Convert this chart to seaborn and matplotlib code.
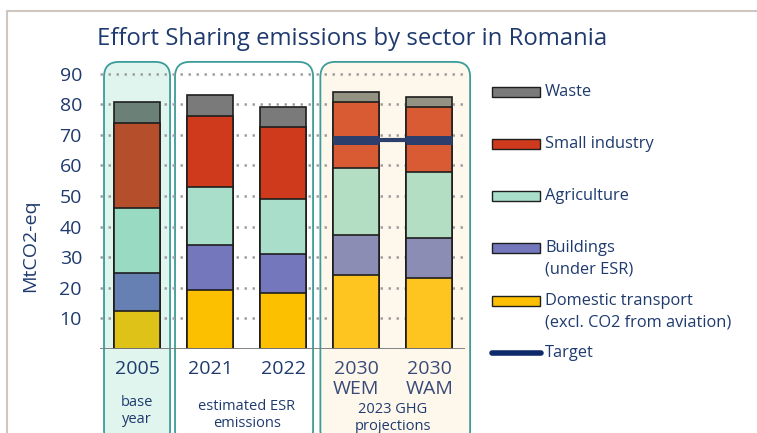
import numpy as np
import pandas as pd
import matplotlib
matplotlib.use("Agg")
import matplotlib.pyplot as plt
import seaborn as sns
from matplotlib.patches import FancyBboxPatch, Rectangle
from matplotlib.lines import Line2D
from matplotlib.transforms import IdentityTransform, blended_transform_factory

# data (MtCO2-eq)
bars = ["2005", "2021", "2022", "2030\nWEM", "2030\nWAM"]
transport = [12.3, 19.3, 18.3, 24.1, 23.2]
buildings = [12.5, 14.6, 12.7, 13.3, 13.0]
agriculture = [21.2, 19.0, 17.9, 21.8, 21.5]
small_industry = [27.9, 23.3, 23.5, 21.4, 21.5]
waste = [6.7, 6.7, 6.6, 3.2, 3.1]
target = 68.3
target_bars = ["2030\nWEM", "2030\nWAM"]

groups = ["base\nyear", "estimated ESR\nemissions", "2023 GHG\nprojections"]
group_span = [(0, 0), (1, 2), (3, 4)]
legend_labels = ["Waste", "Small industry", "Agriculture",
                 "Buildings\n(under ESR)", "Domestic transport\n(excl. CO2 from aviation)", "Target"]

# colours per bar (shades change between base year, estimates and projections)
colors = {
    "transport": ["#DFC218", "#FDC000", "#FDC000", "#FEC520", "#FEC520"],
    "buildings": ["#6680B3", "#7477BC", "#7477BC", "#8C8DB5", "#8C8DB5"],
    "agriculture": ["#98DBC2", "#A9DFCA", "#A9DFCA", "#B4DEC4", "#B4DEC4"],
    "small_industry": ["#B54E2A", "#CF3A1C", "#CF3A1C", "#D95B33", "#D95B33"],
    "waste": ["#6B8077", "#7A7A7A", "#7A7A7A", "#939283", "#939283"],
}
legend_colors = ["#7A7A7A", "#CF3A1C", "#A9DFCA", "#7477BC", "#FDC000"]
box_fill = ["#E0F5EE", "#FFFFFF", "#FEF8EC"]
NAVY = "#1F3A6E"

sns.set_theme(style="white")
plt.rcParams["font.family"] = ["Open Sans", "DejaVu Sans"]

fig = plt.figure(figsize=(7.57, 4.33), dpi=100)
ax = fig.add_axes([100 / 757, (433 - 349) / 433, 365 / 757, 281.6 / 433])
ax.set_facecolor("none")

layers = [("transport", transport), ("buildings", buildings), ("agriculture", agriculture),
          ("small_industry", small_industry), ("waste", waste)]
cum = np.cumsum([v for _, v in layers], axis=0)

width = 0.63
# overlapping cumulative bars, tallest first, to get stacks
for i in range(len(layers) - 1, -1, -1):
    name = layers[i][0]
    df = pd.DataFrame({"bar": bars, "value": cum[i]})
    sns.barplot(data=df, x="bar", y="value", hue="bar", palette=colors[name],
                saturation=1, width=width, edgecolor="#1E1E1E", linewidth=1.2,
                legend=False, ax=ax, zorder=3)

# target line
tx = [bars.index(b) for b in target_bars]
ax.hlines(target, tx[0] - width / 2, tx[-1] + width / 2, color="#2C3E6B", lw=3, zorder=4)
ax.hlines([target] * len(tx), [t - width / 2 for t in tx], [t + width / 2 for t in tx],
          color="#2C3E6B", lw=6.5, zorder=4)

ax.set_xlim(-0.507, 4.49)
ax.set_ylim(0, 92)
ax.set_yticks(range(10, 91, 10))
ax.yaxis.grid(True, color="#A0A0A0", linestyle=(0, (1, 2.2)), lw=1.8, zorder=1)
ax.set_axisbelow(True)
ax.axhline(0, color="#7A7A7A", lw=1.3, zorder=5)
for s in ax.spines.values():
    s.set_visible(False)
ax.tick_params(axis="y", length=0, pad=13, labelsize=14, labelcolor=NAVY)
ax.tick_params(axis="x", length=0, pad=8, labelsize=14, labelcolor=NAVY)
for lbl in ax.get_xticklabels():
    lbl.set_linespacing(1.15)
    if "2030" in lbl.get_text():
        lbl.set_color("#3A4A78")
ax.set_xlabel("")
ax.set_ylabel("")

fig.text(30 / 757, 1 - 246 / 433, "MtCO2-eq", rotation=90, ha="center", va="center",
         fontsize=14, color=NAVY)
fig.text(97 / 757, 1 - 39 / 433, "Effort Sharing emissions by sector in Romania",
         ha="left", va="center", fontsize=17.2, color=NAVY)

# rounded group boxes (drawn in pixels behind the axes)
pads = [(0.452, 0.452), (0.48, 0.41), (0.49, 0.56)]
fig.canvas.draw()
top_px = ax.transData.transform((0, 93.8))[1]
for (a, b), (pl, pr), fc in zip(group_span, pads, box_fill):
    x0 = ax.transData.transform((a - pl, 0))[0]
    x1 = ax.transData.transform((b + pr, 0))[0]
    box = FancyBboxPatch((x0, -12), x1 - x0, top_px + 12,
                         boxstyle="round,pad=0,rounding_size=15",
                         transform=IdentityTransform(), facecolor=fc,
                         edgecolor="#3C9C9A", lw=1.3, zorder=-2)
    fig.add_artist(box)

# group captions
bt = blended_transform_factory(ax.transData, fig.transFigure)
cap_y = [1 - 411 / 433, 1 - 415 / 433, 1 - 418 / 433]
for (a, b), g, yy in zip(group_span, groups, cap_y):
    ax.text((a + b) / 2, yy, g, transform=bt, ha="center", va="center",
            fontsize=10.5, color=NAVY, linespacing=1.15, clip_on=False)

# outer frame
fig.add_artist(Line2D([7 / 757, 7 / 757], [0, 1 - 11 / 433], color="#CFC6C0", lw=1.5))
fig.add_artist(Line2D([7 / 757, 1], [1 - 11 / 433, 1 - 11 / 433], color="#CFC6C0", lw=1.5))

# legend drawn by hand
leg_y = [92, 144, 196, 248, 301, 353]
for k, (lab, yy) in enumerate(zip(legend_labels, leg_y)):
    yf = 1 - yy / 433
    if k < len(legend_colors):
        fig.add_artist(Rectangle((492 / 757, yf - 5 / 433), 48 / 757, 10 / 433,
                                 transform=fig.transFigure, facecolor=legend_colors[k],
                                 edgecolor="#1E1E1E", lw=1.0))
    else:
        fig.add_artist(Line2D([492 / 757, 541 / 757], [yf, yf], color="#0E2A6B",
                              lw=4, solid_capstyle="round"))
    first, *rest = lab.split("\n")
    fig.text(545 / 757, yf, first, ha="left", va="center", fontsize=11.8, color=NAVY)
    if rest:
        fig.text(545 / 757, yf - 21.5 / 433, rest[0], ha="left", va="center",
                 fontsize=11.8, color=NAVY)

fig.savefig("out.png", dpi=100)
plt.close(fig)
